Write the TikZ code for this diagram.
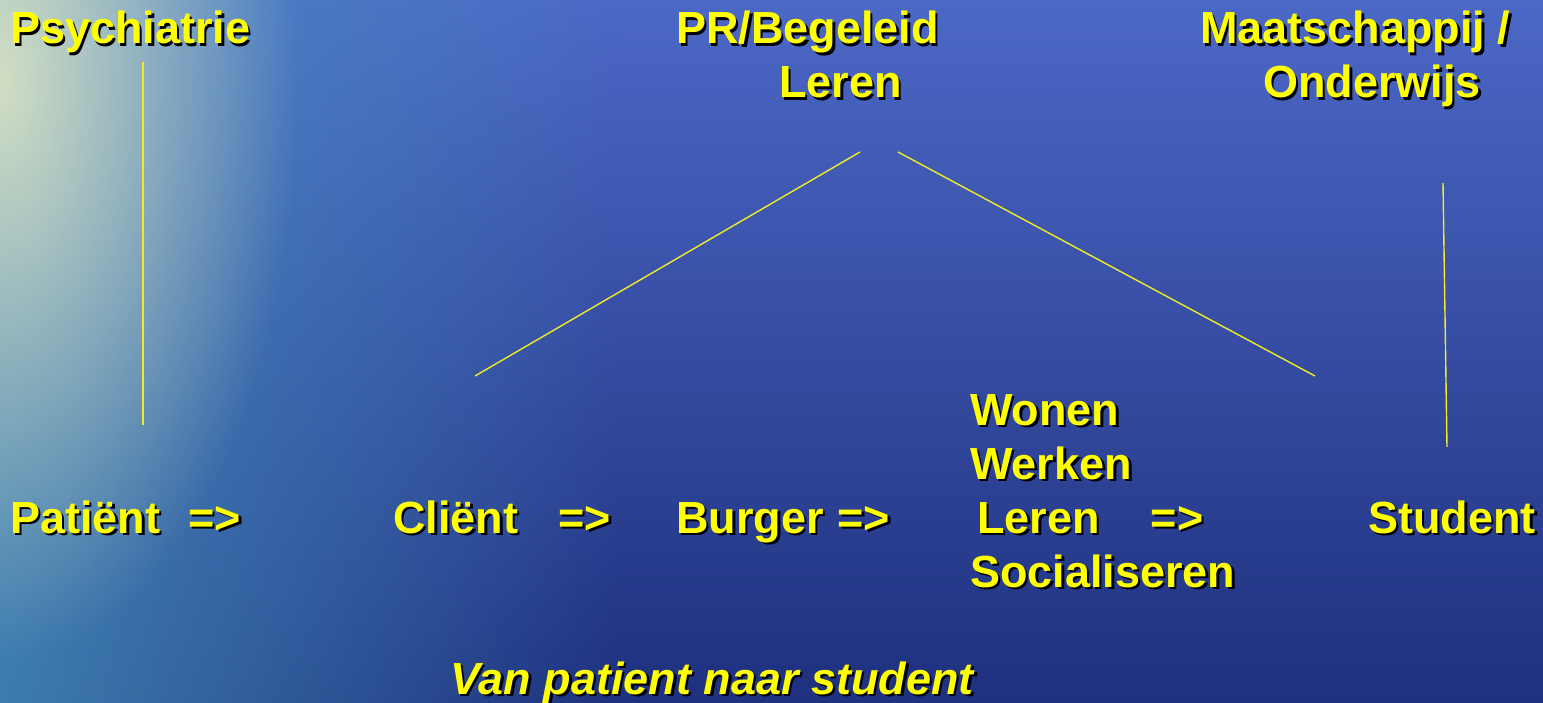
\documentclass[tikz,border=0pt]{standalone}
\usepackage{fontspec}
\setmainfont{Liberation Sans}
\usetikzlibrary{fadings}
\definecolor{bgtop}{RGB}{76,104,198}
\definecolor{bgmid}{RGB}{40,72,160}
\definecolor{bgbot}{RGB}{30,48,126}
\definecolor{teal}{RGB}{72,150,192}
\definecolor{pale}{RGB}{226,232,196}
\definecolor{txt}{RGB}{255,255,0}
\definecolor{ln}{RGB}{240,235,40}
\tikzfading[name=fromleft, left color=transparent!0, right color=transparent!100]
\tikzfading[name=glowfade, inner color=transparent!0, outer color=transparent!100]
\tikzset{
  lbl/.style={anchor=base west, inner sep=0pt, text=txt, font=\fontsize{45}{54}\selectfont\bfseries},
  shd/.style={lbl, text=black, xshift=2.6pt, yshift=-2.6pt},
  conn/.style={draw=ln, line width=1.4pt},
}
\newcommand\pair[3]{%
  \node[shd] (#1-s) at (#2) {#3};
  \node[lbl] (#1) at (#2) {#3};}
\begin{document}
\begin{tikzpicture}[x=1pt,y=-1pt]
\useasboundingbox (0,0) rectangle (1543,703);
% background
\shade[top color=bgtop, middle color=bgmid, bottom color=bgbot] (0,0) rectangle (1543,703);
\fill[teal, opacity=0.75, path fading=fromleft] (0,0) rectangle (620,703);
\fill[pale, opacity=0.9, path fading=glowfade] (-300,-500) rectangle (300,660);
% texts
\pair{psy}{10,44}{Psychiatrie}
\pair{pr}{676,44}{PR/Begeleid}
\pair{prl}{779,98}{Leren}
\pair{maa}{1200,44}{Maatschappij /}
\pair{ond}{1263,98}{Onderwijs}
\pair{pat}{10,533}{Patiënt\hspace{28pt}=>}
\pair{cli}{393,533}{Cliënt\hspace{40pt}=>}
\pair{bur}{676,533}{Burger\hspace{14pt}=>}
\pair{won}{970,425}{Wonen}
\pair{wer}{970,479}{Werken}
\pair{ler}{977,533}{Leren\hspace{51pt}=>}
\pair{soc}{970,587}{Socialiseren}
\pair{stu}{1368,533}{Student}
\node[shd, font=\fontsize{45}{54}\selectfont\bfseries\itshape] (van-s) at (450,694) {Van patient naar student};
\node[lbl, font=\fontsize{45}{54}\selectfont\bfseries\itshape] (van) at (450,694) {Van patient naar student};
% connectors
\coordinate (a1) at (143,62);  \coordinate (a2) at (143,425);
\coordinate (b1) at (860,152); \coordinate (b2) at (475,376);
\coordinate (c1) at (898,152); \coordinate (c2) at (1315,376);
\coordinate (d1) at (1443,183); \coordinate (d2) at (1447,447);
\draw[conn] (a1) -- (a2);
\draw[conn] (b1) -- (b2);
\draw[conn] (c1) -- (c2);
\draw[conn] (d1) -- (d2);
\end{tikzpicture}
\end{document}
